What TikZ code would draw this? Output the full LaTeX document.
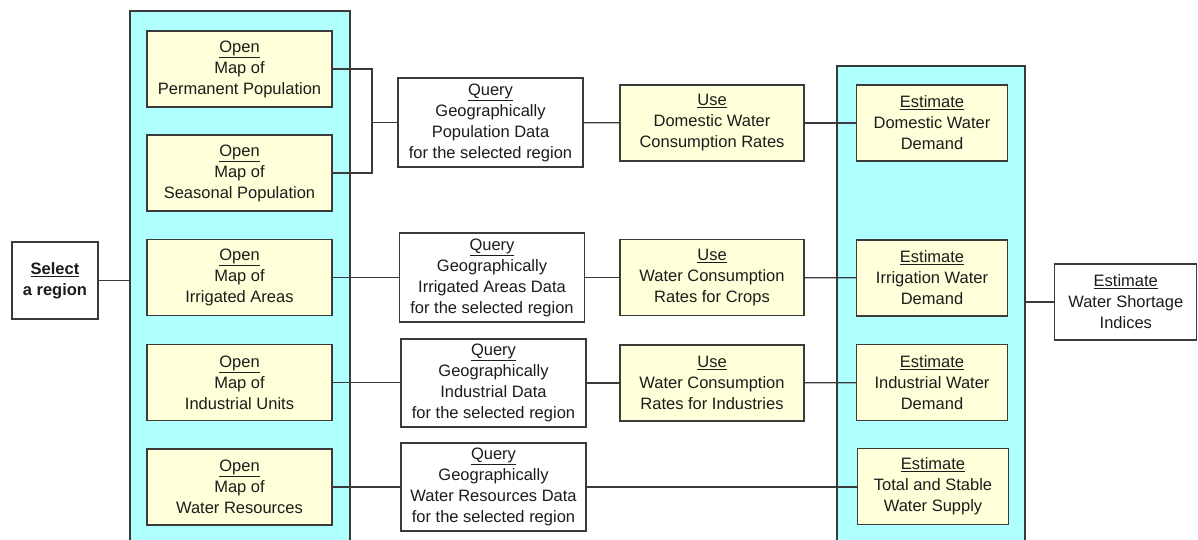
\documentclass[tikz,border=0pt]{standalone}
\usepackage{fontspec}
\setmainfont{Liberation Sans}
\usetikzlibrary{positioning}
\definecolor{wsCyan}{HTML}{AFFFFF}
\definecolor{wsCream}{HTML}{FFFFDA}
\definecolor{wsLine}{HTML}{3A3A3A}
\definecolor{wsInk}{HTML}{1C1C1C}
\begin{document}
\begin{tikzpicture}[x=1pt,y=-1pt,line cap=butt,line join=miter]
\path[use as bounding box,fill=white] (0,0) rectangle (1198,539);
\tikzset{wire/.style={draw=wsLine,line width=1.2pt},panel/.style={draw=wsLine,fill=wsCyan,line width=1.2pt,inner sep=0pt},box/.style={draw=wsLine,line width=1.2pt,text=wsInk,align=center,inner sep=0pt,font=\fontsize{16.5}{21}\selectfont},ybox/.style={box,fill=wsCream,minimum width=185pt,minimum height=76pt},wbox/.style={box,fill=white,minimum width=185pt,minimum height=89pt},ebox/.style={box,fill=wsCream,minimum width=151pt,minimum height=76pt}}
\node[panel,minimum width=220pt,minimum height=549pt] (lpanel) at (240,285.5) {};
\node[panel,minimum width=188pt,minimum height=494pt] (rpanel) at (931,313) {};
\node[box,fill=white,minimum width=86pt,minimum height=77pt,font=\fontsize{16.5}{21}\selectfont\bfseries] (select) at (55,280.5) {\underline{Select}\\a region};
\node[ybox] (open1) at (239.5,69) {\underline{Open}\\Map of\\Permanent Population};
\node[ybox] (open2) at (239.5,173) {\underline{Open}\\Map of\\Seasonal Population};
\node[ybox] (open3) at (239.5,277.5) {\underline{Open}\\Map of\\Irrigated Areas};
\node[ybox] (open4) at (239.5,382.5) {\underline{Open}\\Map of\\Industrial Units};
\node[ybox] (open5) at (239.5,487) {\underline{Open}\\Map of\\Water Resources};
\node[wbox] (query1) at (490.5,122.5) {\underline{Query}\\Geographically\\Population Data\\for the selected region};
\node[wbox] (query2) at (492,277.5) {\underline{Query}\\Geographically\\Irrigated Areas Data\\for the selected region};
\node[wbox,minimum height=88pt] (query3) at (493.5,383) {\underline{Query}\\Geographically\\Industrial Data\\for the selected region};
\node[wbox,minimum height=88pt] (query4) at (493.5,487) {\underline{Query}\\Geographically\\Water Resources Data\\for the selected region};
\node[ybox,minimum width=184pt] (use1) at (712,123) {\underline{Use}\\Domestic Water\\Consumption Rates};
\node[ybox,minimum width=184pt] (use2) at (712,277.5) {\underline{Use}\\Water Consumption\\Rates for Crops};
\node[ybox,minimum width=184pt] (use3) at (712,383) {\underline{Use}\\Water Consumption\\Rates for Industries};
\node[ebox] (est1) at (932,123) {\underline{Estimate}\\Domestic Water\\Demand};
\node[ebox] (est2) at (932,278) {\underline{Estimate}\\Irrigation Water\\Demand};
\node[ebox] (est3) at (932,382.5) {\underline{Estimate}\\Industrial Water\\Demand};
\node[ebox] (est4) at (933,486.5) {\underline{Estimate}\\Total and Stable\\Water Supply};
\node[box,fill=white,minimum width=142pt,minimum height=76pt] (short) at (1125.8,302) {\underline{Estimate}\\Water Shortage\\Indices};
\coordinate (jn) at (372,122.5);
\draw[wire] (select.east) -- (select.east -| lpanel.west);
\draw[wire] (open1.east) -| (jn) |- (open2.east); \draw[wire] (jn) -- (query1.west);
\draw[wire] (query1) -- (use1); \draw[wire] (use1) -- (est1);
\draw[wire] (open3) -- (query2); \draw[wire] (query2) -- (use2); \draw[wire] (use2) -- (est2);
\draw[wire] (open4.east) -- (open4.east -| query3.west); \draw[wire] (query3) -- (use3); \draw[wire] (use3) -- (est3);
\draw[wire] (open5.east) -- (open5.east -| query4.west); \draw[wire] (query4.east) -- (query4.east -| est4.west);
\draw[wire] (rpanel.east |- short.west) -- (short.west);
\end{tikzpicture}
\end{document}
